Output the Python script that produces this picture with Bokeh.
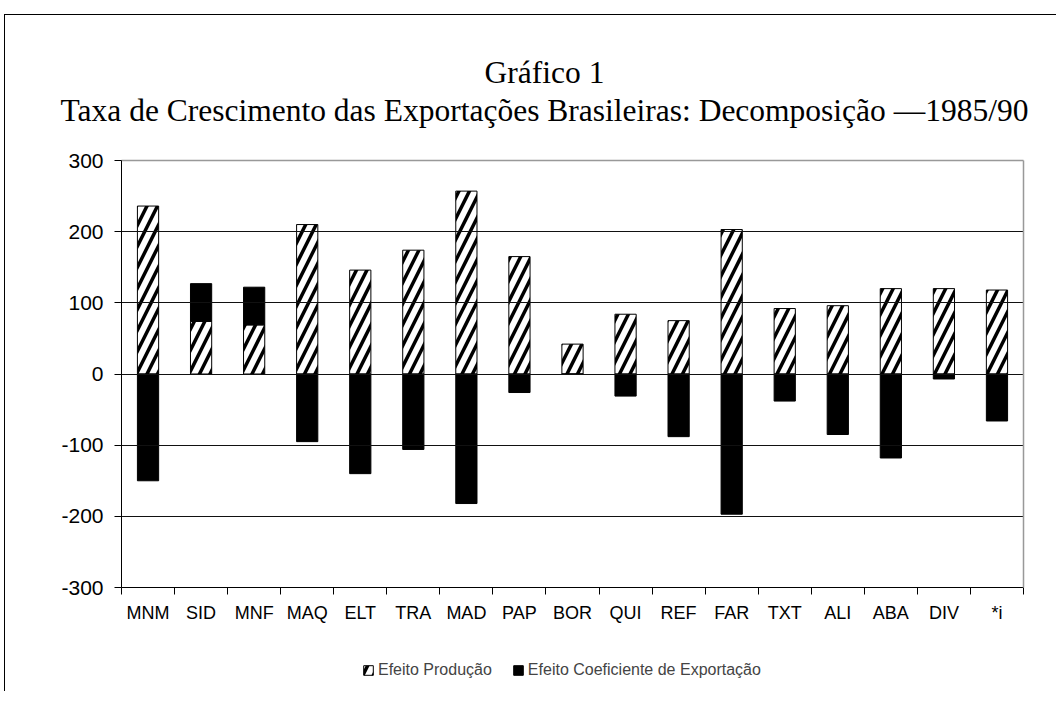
from bokeh.plotting import figure
from bokeh.models import FixedTicker, Label, Legend, LegendItem, Range1d, LinearAxis
from bokeh.embed import file_html
from bokeh.resources import INLINE

categories = ["MNM", "SID", "MNF", "MAQ", "ELT", "TRA", "MAD", "PAP", "BOR",
              "QUI", "REF", "FAR", "TXT", "ALI", "ABA", "DIV", "*i"]
efeito_producao = [236, 74, 69, 210, 146, 174, 257, 165, 42,
                   84, 75, 203, 92, 96, 120, 120, 118]
efeito_coeficiente = [-150, 53, 53, -95, -140, -106, -182, -26, 0,
                      -31, -88, -197, -38, -85, -118, -7, -66]
y_ticks = [-300, -200, -100, 0, 100, 200, 300]
title_1 = "Gráfico 1"
title_2 = "Taxa de Crescimento das Exportações Brasileiras: Decomposição \u20141985/90"

n = len(categories)
xs = [i + 0.5 for i in range(n)]
coef_bottom = [p if c > 0 else 0 for p, c in zip(efeito_producao, efeito_coeficiente)]
coef_top = [p + c if c > 0 else c for p, c in zip(efeito_producao, efeito_coeficiente)]

# The frame is enlarged around the data area so the titles and legend are drawn
# inside it (annotations are clipped to the frame); the axes are pinned with
# fixed_location and bounds so that they frame only the data area.
p = figure(frame_width=1010, frame_height=666, output_backend="svg", toolbar_location=None,
           x_range=Range1d(-1.5078, 17.5277), y_range=Range1d(-446.1, 489.7),
           x_axis_location=None, y_axis_location=None,
           min_border_left=36, min_border_right=5, min_border_top=10,
           min_border_bottom=0)
p.styles = {"border-left": "1px solid black", "border-top": "1px solid black",
            "margin-left": "4px", "margin-top": "14px"}
p.background_fill_color = "white"
p.border_fill_color = "white"
p.outline_line_color = None
p.xgrid.visible = False
p.ygrid.visible = False

for txt, yy in [(title_1, 619), (title_2, 581)]:
    p.add_layout(Label(x=423 + 80, y=yy, x_units="screen", y_units="screen", text=txt,
                       text_font="Liberation Serif", text_font_size="31.5px",
                       text_align="center", text_baseline="alphabetic",
                       text_color="black"))


def plain_axis(loc, color, width, dim_bounds, side):
    ax = LinearAxis(fixed_location=loc, bounds=dim_bounds,
                    ticker=FixedTicker(ticks=[]),
                    axis_line_color=color, axis_line_width=width,
                    major_tick_line_color=None, minor_tick_line_color=None,
                    major_label_text_font_size="0px")
    p.add_layout(ax, side)


# horizontal grid lines (black) and the grey top/right border of the data area
for t in y_ticks:
    if abs(t) != 300:
        plain_axis(t, "#111111", 1, (0, n), "below")
plain_axis(300, "#999999", 1.5, (0, n), "above")
plain_axis(n, "#999999", 1.5, (-300, 300), "right")

prod = p.vbar(x=xs, width=0.4, bottom=0, top=efeito_producao,
              fill_color="white", line_color="black", line_width=1,
              hatch_pattern="/", hatch_color="black", hatch_weight=3.5, hatch_scale=21)
coef = p.vbar(x=xs, width=0.4, bottom=coef_bottom, top=coef_top,
              fill_color="black", line_color="black", line_width=1)

yaxis = LinearAxis(fixed_location=0, bounds=(-300, 300), ticker=FixedTicker(ticks=y_ticks),
                   major_label_overrides={t: str(t) for t in y_ticks})
yaxis.axis_line_color = "black"
yaxis.major_tick_line_color = "black"
yaxis.major_tick_out = 7
yaxis.major_tick_in = 0
yaxis.minor_tick_line_color = None
yaxis.major_label_text_font = "Liberation Sans"
yaxis.major_label_text_font_size = "21px"
yaxis.major_label_text_color = "black"
yaxis.major_label_standoff = 11
p.add_layout(yaxis, "left")

xaxis = LinearAxis(fixed_location=-300, bounds=(0, n),
                   ticker=FixedTicker(ticks=xs, minor_ticks=list(range(n + 1))),
                   major_label_overrides={x: c for x, c in zip(xs, categories)})
xaxis.axis_line_color = "black"
xaxis.major_tick_line_color = None
xaxis.minor_tick_line_color = "black"
xaxis.minor_tick_out = 7
xaxis.minor_tick_in = 0
xaxis.major_label_text_font = "Liberation Sans"
xaxis.major_label_text_font_size = "18px"
xaxis.major_label_text_color = "black"
xaxis.major_label_standoff = 8
p.add_layout(xaxis, "below")

legend = Legend(items=[LegendItem(label="Efeito Produção", renderers=[prod]),
                       LegendItem(label="Efeito Coeficiente de Exportação", renderers=[coef])],
                orientation="horizontal", location=(241 + 80, 12),
                label_text_font="Liberation Sans", label_text_font_size="16px",
                glyph_width=12, glyph_height=12, label_standoff=4, spacing=20,
                border_line_color=None, background_fill_alpha=0, margin=0, padding=4)
p.add_layout(legend, "center")

open("out.html", "w").write(file_html(p, INLINE))
